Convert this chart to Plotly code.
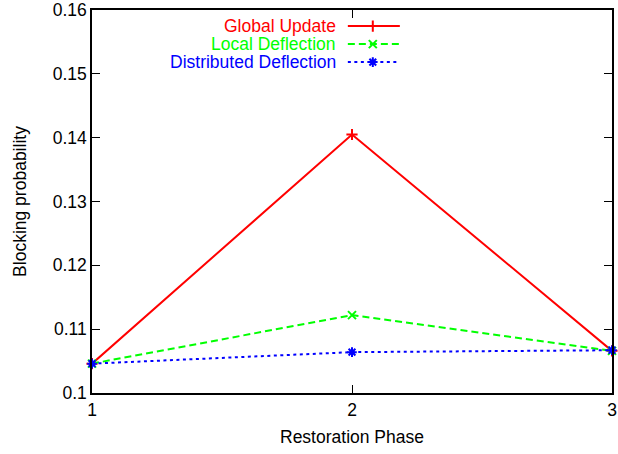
import plotly.graph_objects as go

phases = [1, 2, 3]
global_update = [0.1046, 0.1405, 0.1066]
local_deflection = [0.1046, 0.1122, 0.1066]
distributed_deflection = [0.1046, 0.1064, 0.1067]
series_names = ["Global Update", "Local Deflection", "Distributed Deflection"]
y_ticks = [0.1, 0.11, 0.12, 0.13, 0.14, 0.15, 0.16]
y_tick_labels = ["0.1", "0.11", "0.12", "0.13", "0.14", "0.15", "0.16"]

colors = ["#ff0000", "#00ff00", "#0000ff"]
dashes = ["solid", "7px,4px", "3px,3.5px"]
symbols = ["cross-thin-open", "x-thin-open", "asterisk-open"]
values = [global_update, local_deflection, distributed_deflection]

FS = 17.5

fig = go.Figure()
for name, vals, c, d, s in zip(series_names, values, colors, dashes, symbols):
    fig.add_trace(go.Scatter(
        x=phases, y=vals, mode="lines+markers", name=name,
        line=dict(color=c, width=2, dash=d),
        marker=dict(symbol=s, size=8, line=dict(color=c, width=2), color=c),
        showlegend=False, cliponaxis=False,
    ))

# legend (gnuplot style: text right-aligned, sample to the right)
leg_y = [0.958, 0.911, 0.864]
for name, c, d, s, ly in zip(series_names, colors, dashes, symbols, leg_y):
    fig.add_trace(go.Scatter(
        x=[0.492, 0.54, 0.592], y=[ly, ly, ly], xaxis="x2", yaxis="y2",
        mode="lines", line=dict(color=c, width=2, dash=d), showlegend=False,
        hoverinfo="skip",
    ))
    fig.add_trace(go.Scatter(
        x=[0.54], y=[ly], xaxis="x2", yaxis="y2", mode="markers",
        marker=dict(symbol=s, size=8, line=dict(color=c, width=2), color=c),
        showlegend=False, hoverinfo="skip",
    ))
    fig.add_annotation(
        x=0.471, y=ly, xref="paper", yref="paper", text=name, showarrow=False,
        xanchor="right", yanchor="middle", font=dict(color=c, size=FS),
        borderpad=0,
    )

axis_common = dict(
    showline=True, linecolor="black", linewidth=1.5, mirror="allticks",
    ticks="inside", ticklen=8, tickcolor="black", showgrid=False, zeroline=False,
    tickfont=dict(size=FS, color="black"), automargin=False,
)

fig.update_layout(
    width=618, height=454,
    margin=dict(l=92, r=6, t=10, b=61),
    plot_bgcolor="white", paper_bgcolor="white",
    font=dict(family="Liberation Sans, Arial, sans-serif", size=FS, color="black"),
    xaxis=dict(range=[1, 3], tickvals=phases, ticktext=[str(p) for p in phases],
               title=dict(text="Restoration Phase", standoff=12, font=dict(size=FS)),
               **axis_common),
    yaxis=dict(range=[0.1, 0.16], tickvals=y_ticks, ticktext=y_tick_labels,
               title=dict(text="Blocking probability", standoff=22, font=dict(size=FS)),
               **axis_common),
    xaxis2=dict(range=[0, 1], overlaying="x", visible=False, fixedrange=True),
    yaxis2=dict(range=[0, 1], overlaying="y", visible=False, fixedrange=True),
)

fig.write_html(
    "out.html",
    config={"displayModeBar": False},
    post_script="document.body.style.margin='0';document.body.style.overflow='hidden';",
)
